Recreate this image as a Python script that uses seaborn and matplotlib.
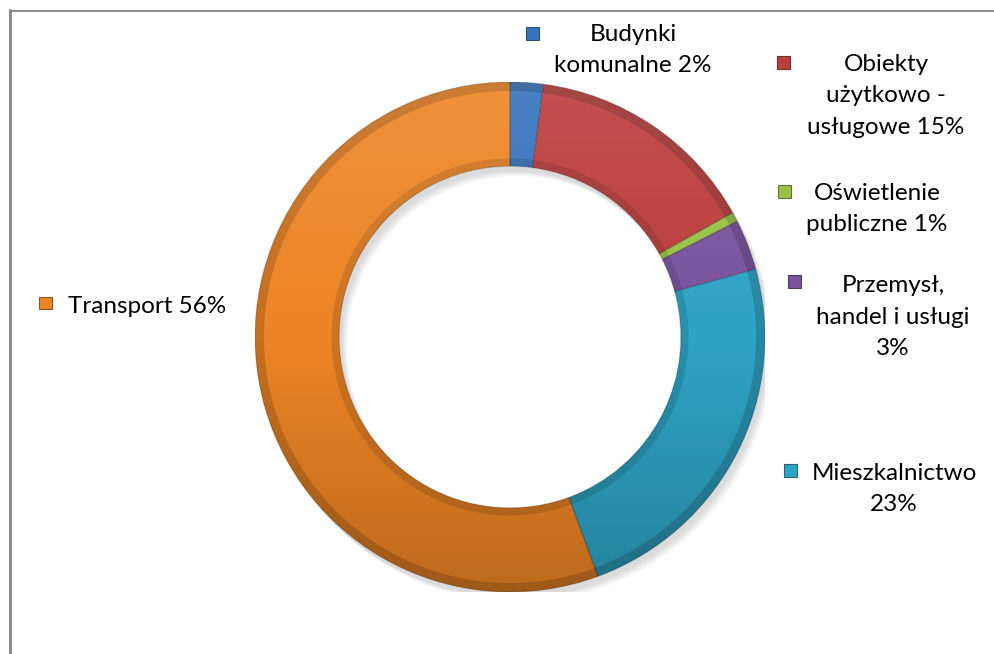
import numpy as np
import matplotlib
matplotlib.use("Agg")
import matplotlib.pyplot as plt
import seaborn as sns
from matplotlib.patches import Wedge, Rectangle

sns.set_theme(style="white")
plt.rcParams["font.family"] = ["Lato", "DejaVu Sans"]

# kolejność zgodnie z ruchem wskazówek zegara, od góry
categories = ["Budynki komunalne", "Obiekty użytkowo - usługowe", "Oświetlenie publiczne",
              "Przemysł, handel i usługi", "Mieszkalnictwo", "Transport"]
shares = [2.1, 14.8, 0.6, 3.2, 23.7, 55.6]
labels = ["Budynki\nkomunalne 2%", "Obiekty\nużytkowo -\nusługowe 15%", "Oświetlenie\npubliczne 1%",
          "Przemysł,\nhandel i usługi\n3%", "Mieszkalnictwo\n23%", "Transport 56%"]
colors = ["#3573BE", "#BB3E3C", "#9AC244", "#7A529F", "#2FA3C4", "#EC8526"]

W, H = 995, 654
fig = plt.figure(figsize=(W / 100, H / 100), dpi=100)

# ramka wykresu (tylko lewa i górna krawędź widoczne)
fig.add_artist(plt.Line2D([10 / W, 10 / W], [0, 1 - 10 / H], color="#8c8c8c", lw=2.2))
fig.add_artist(plt.Line2D([10 / W, 1], [1 - 11 / H, 1 - 11 / H], color="#8c8c8c", lw=1.4))

cx, cy, R = 510, 337, 255
ax = fig.add_axes([(cx - R) / W, (H - cy - R) / H, 2 * R / W, 2 * R / H])

width = 0.33
# cień pod pierścieniem
for k in range(6):
    ax.add_patch(Wedge((0.012 + 0.004 * k, -0.02 - 0.004 * k), 1.0, 0, 360, width=width,
                       color="black", alpha=0.025, lw=0))

wedges, _ = ax.pie(shares, colors=colors, startangle=90, counterclock=False,
                   wedgeprops=dict(width=width, edgecolor="none", linewidth=0), radius=1.0)

# efekt wypukłości: ciemniejsze brzegi
for w, c in zip(wedges, colors):
    t1, t2 = w.theta1, w.theta2
    ax.add_patch(Wedge((0, 0), 1.0, t1, t2, width=0.035, color="black", alpha=0.16, lw=0))
    ax.add_patch(Wedge((0, 0), 1 - width + 0.03, t1, t2, width=0.03, color="black", alpha=0.12, lw=0))
    ax.add_patch(Wedge((0, 0), 1, t1, t2, width=width, fill=False, edgecolor="black",
                       alpha=0.15, lw=1.0))

# gradient światła: jaśniej u góry, ciemniej u dołu
yy = np.linspace(1, -1, 300)[:, None] * np.ones((1, 300))
grad = np.zeros((300, 300, 4))
top = yy > 0
grad[..., :3] = np.where(top[..., None], 1.0, 0.0)
grad[..., 3] = np.where(top, 0.10 * yy, -0.2 * yy)
ring = Wedge((0, 0), 1.0, 0, 360, width=width, transform=ax.transData)
im = ax.imshow(grad, extent=[-1, 1, -1, 1], zorder=5)
im.set_clip_path(ring)

ax.set_xlim(-1, 1)
ax.set_ylim(-1, 1)
ax.set_aspect("equal")
ax.axis("off")

# etykiety z kwadratowymi znacznikami
marker_xy = [(533, 33), (784, 62), (785, 191), (794, 281), (790, 470), (45, 303)]
text_xy = [(633, 50), (886, 96), (877, 209), (893, 317), (894, 489), (147, 306)]
fs = 17.5
for (mx, my), (tx, ty), lab, c in zip(marker_xy, text_xy, labels, colors):
    s = 13
    fig.add_artist(Rectangle(((mx - s / 2) / W, 1 - (my + s / 2) / H), s / W, s / H,
                             facecolor=c, edgecolor=sns.dark_palette(c, 3)[1], lw=0.8,
                             transform=fig.transFigure))
    fig.text(tx / W, 1 - ty / H, lab, ha="center", va="center", fontsize=fs,
             color="black", linespacing=1.62, multialignment="center")

fig.savefig("out.png", dpi=100)
